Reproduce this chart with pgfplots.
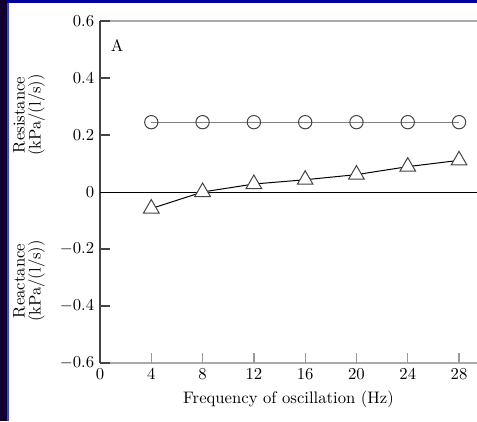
\documentclass[border=0pt]{standalone}
\usepackage{pgfplots}
\pgfplotsset{compat=1.18}
\definecolor{leftstrip}{HTML}{12002E}
\definecolor{leftedge}{HTML}{3344FF}
\definecolor{topstrip}{HTML}{0000A0}
\definecolor{axdark}{HTML}{444444}
\definecolor{axgray}{HTML}{AAAAAA}
\definecolor{tickgray}{HTML}{999999}
\begin{document}
\begin{tikzpicture}
\useasboundingbox (0,0) rectangle (286.2pt,252.6pt);
\fill[white] (0,0) rectangle (286.2pt,252.6pt);
\fill[leftstrip] (0,0) rectangle (4.2pt,252.6pt);
\fill[leftedge] (4.2pt,0) rectangle (5.4pt,252.6pt);
\fill[topstrip] (4.2pt,250.8pt) rectangle (286.2pt,252.6pt);
\fill[leftstrip] (0,250.8pt) rectangle (4.2pt,252.6pt);
\begin{axis}[
    at={(60pt,34.8pt)}, anchor=south west,
    scale only axis,
    width=226.2pt, height=205.2pt,
    xmin=0, xmax=29.4,
    ymin=-0.6, ymax=0.6,
    axis line style={draw=none},
    xtick pos=bottom, ytick pos=left,
    xtick={0,4,...,28},
    ytick={-0.6,-0.4,-0.2,0,0.2,0.4,0.6},
    yticklabels={$-0.6$,$-0.4$,$-0.2$,$0$,$0.2$,$0.4$,$0.6$},
    tick align=inside,
    major tick length=0pt,
    xlabel={Frequency of oscillation (Hz)},
    clip=false,
]
% axis frame: gray bottom and top, dark left, black zero line
\draw[axgray, line width=1.1pt] (rel axis cs:0,0) -- (rel axis cs:1,0);
\draw[axgray, line width=1.1pt] (rel axis cs:0,1) -- (rel axis cs:1,1);
\draw[axdark, line width=1.1pt] (rel axis cs:0,0) -- (rel axis cs:0,1);
\draw[black, line width=0.6pt] (axis cs:0,0) -- (axis cs:29.4,0);
% inward ticks
\pgfplotsinvokeforeach{4,8,12,16,20,24,28}{
  \draw[tickgray, line width=0.8pt] (axis cs:#1,-0.6) -- ++(0pt,6pt);
}
\pgfplotsinvokeforeach{-0.6,-0.4,-0.2,0.2,0.4,0.6}{
  \draw[axdark, line width=0.8pt] (axis cs:0,#1) -- ++(6pt,0pt);
}
% resistance
\addplot[gray, line width=0.7pt, mark=o, mark size=4pt,
    mark options={draw=axdark, fill=white, line width=0.6pt}] coordinates {
    (4,0.245) (8,0.245) (12,0.245) (16,0.245) (20,0.245) (24,0.245) (28,0.245)
};
% reactance
\addplot[black, line width=0.6pt, mark=triangle*, mark size=5.4pt,
    mark options={draw=axdark, fill=white, line width=0.6pt}] coordinates {
    (4,-0.058) (8,0.0) (12,0.028) (16,0.043) (20,0.061) (24,0.089) (28,0.111)
};
\end{axis}
\node at (70.2pt,225pt) {A};
\node[rotate=90, align=center, font={\fontsize{10}{9.5}\selectfont}] at (17.4pt,183.6pt) {Resistance\\(kPa/(l/s))};
\node[rotate=90, align=center, font={\fontsize{10}{9.5}\selectfont}] at (17.4pt,84pt) {Reactance\\(kPa/(l/s))};
\end{tikzpicture}
\end{document}
